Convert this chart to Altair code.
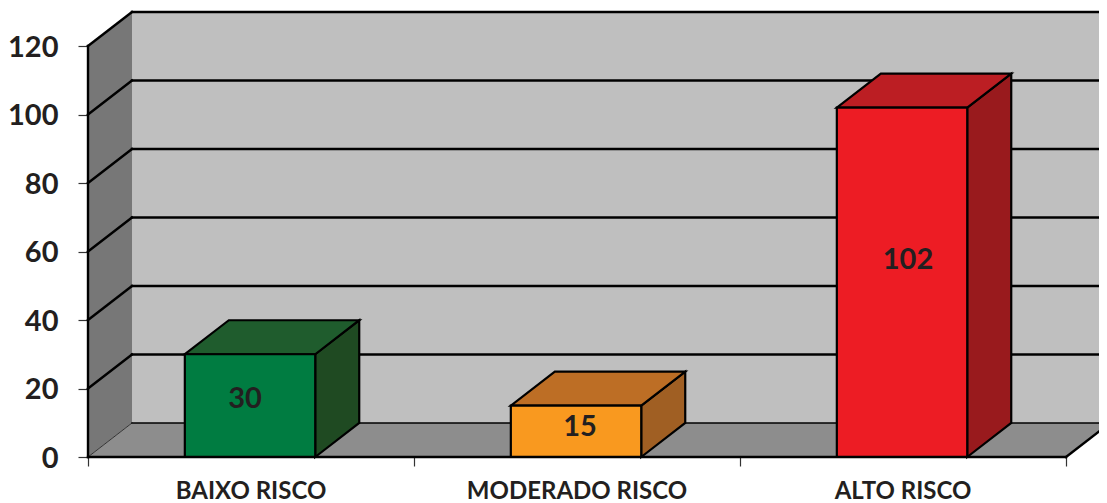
import altair as alt
import pandas as pd

# Data
categories = ["BAIXO RISCO", "MODERADO RISCO", "ALTO RISCO"]
values = [30, 15, 102]
y_ticks = [0, 20, 40, 60, 80, 100, 120]
x_ticks = [0, 1, 2, 3]

# 3-D projection, in data units
DX = 0.135      # depth along x (category units)
DY = 9.93       # depth along y (value units)
HALF = 0.2      # half a bar's front width
SHIFT = -0.003  # bars sit a hair left of the category centre
XEND = 3.135
YMAX = 120

front_colors = ["#007c41", "#f9991f", "#ed1c24"]
top_colors = ["#1f5c2d", "#bd6e25", "#bc1e23"]
side_colors = ["#1f4a22", "#a05f23", "#991a1d"]
label_dx = [-6, 3, 5]
label_dy = [-7, -4, -22]

TXT = "#231f20"
FONT = "Lato"

x_scale = alt.Scale(domain=[0, 3.1012], nice=False, zero=False)
y_scale = alt.Scale(domain=[0, YMAX + DY], nice=False, zero=False)
x_axis = alt.Axis(values=x_ticks, labels=False, domain=False, grid=False, title=None,
                  tickSize=9, tickColor="#333333", tickWidth=1.2)
y_axis = alt.Axis(values=y_ticks, domain=False, grid=False, title=None, tickSize=10,
                  tickColor="#333333", tickWidth=1.2, labelFont=FONT, labelFontSize=29,
                  labelFontWeight="bold", labelColor=TXT, labelPadding=20, labelOffset=1)

X = alt.X("x:Q", scale=x_scale, axis=x_axis)
Y = alt.Y("y:Q", scale=y_scale, axis=y_axis)


def poly(rows, color, stroke=None, width=2.2):
    df = pd.DataFrame(rows, columns=["x", "y", "y2"])
    kw = dict(color=color, opacity=1, interpolate="linear")
    if stroke:
        kw.update(stroke=stroke, strokeWidth=width, strokeJoin="miter")
    return alt.Chart(df).mark_area(**kw).encode(x=X, y=Y, y2="y2:Q")


def line(rows, color="#000000", width=2.4, group=None):
    df = pd.DataFrame(rows, columns=["x", "y"])
    return alt.Chart(df).mark_line(color=color, strokeWidth=width, interpolate="linear",
                                   strokeCap="square").encode(x=X, y=Y, order=alt.Order("i:Q")) \
        .transform_window(i="row_number()")


layers = []
# back wall, left wall, floor
layers.append(poly([(DX, DY, YMAX + DY), (XEND, DY, YMAX + DY)], "#bfbfbf"))
layers.append(poly([(0, 0, YMAX), (DX, DY, YMAX + DY)], "#777777"))
layers.append(poly([(0, 0, 0), (DX, 0, DY), (3, 0, DY), (XEND, DY, DY)], "#8d8d8d"))

# grid lines, folded over the left wall
for v in y_ticks:
    w = 1.0 if v == 0 else 2.4
    layers.append(line([(0, v), (DX, v + DY)], "#333333" if v == 0 else "#000000", w))
    layers.append(line([(DX, v + DY), (XEND, v + DY)], "#000000", 1.5 if v == 0 else 2.4))

# front edges
layers.append(line([(0, 0), (0, YMAX)]))
layers.append(line([(3, 0), (XEND, DY)]))

# bars
for i, v in enumerate(values):
    c = i + 0.5 + SHIFT
    x0, x1 = c - HALF, c + HALF
    layers.append(poly([(x1, 0, v), (x1 + DX, DY, v + DY)], side_colors[i], "#000000"))
    layers.append(poly([(x0, v, v), (x0 + DX, v, v + DY), (x1, v, v + DY), (x1 + DX, v + DY, v + DY)],
                       top_colors[i], "#000000"))
    layers.append(poly([(x0, 0, v), (x1, 0, v)], front_colors[i], "#000000"))
    layers.append(
        alt.Chart(pd.DataFrame({"x": [i + 0.5], "y": [v / 2], "t": [str(v)]}))
        .mark_text(font=FONT, fontSize=29, fontWeight="bold", color=TXT,
                   dx=label_dx[i], dy=label_dy[i])
        .encode(x=X, y=Y, text="t:N")
    )

# floor front edge
layers.append(line([(0, 0), (3, 0)]))

# category labels
layers.append(
    alt.Chart(pd.DataFrame({"x": [i + 0.5 for i in range(3)], "t": categories}))
    .mark_text(font=FONT, fontSize=24, fontWeight="bold", color=TXT, baseline="middle")
    .encode(x=X, y=alt.value(480), text="t:N")
)

chart = (
    alt.layer(*layers)
    .properties(width=1011, height=445,
                autosize=alt.AutoSizeParams(type="none"),
                padding={"left": 80, "top": 4, "right": 0, "bottom": 46},
                background="#ffffff")
    .configure_view(stroke=None)
)

chart.save("out.html", embed_options={"renderer": "svg", "actions": False})
